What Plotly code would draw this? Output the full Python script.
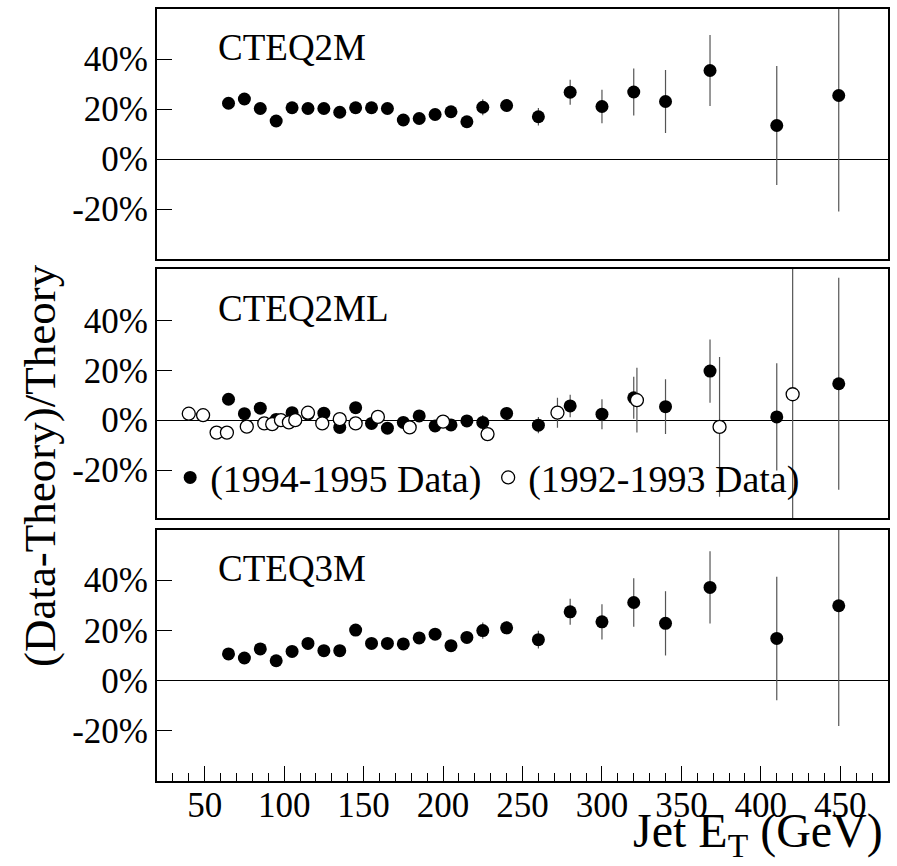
import plotly.graph_objects as go

# ---------------- data ----------------
et_9495 = [65, 75, 85, 95, 105, 115, 125, 135, 145, 155, 165, 175, 185, 195, 205,
           215, 225, 240, 260, 280, 300, 320, 340, 368, 410, 449]
cteq2m = [22.3, 24.0, 20.2, 15.2, 20.5, 20.2, 20.2, 18.7, 20.5, 20.5, 20.2, 15.6, 16.2,
          17.8, 18.9, 14.9, 20.7, 21.4, 16.9, 26.7, 21.0, 26.8, 23.0, 35.4, 13.4, 25.4]
err_2m = [1, 1, 1, 1, 1, 1, 1, 1, 1, 1, 1, 1, 1, 1, 1,
          2, 3.2, 2.5, 3.5, 5.0, 6.7, 9.4, 12.6, 14.2, 23.8, 46.4]
cteq2ml = [8.4, 2.6, 4.8, 0.3, 3.0, 2.4, 2.8, -2.9, 5.0, -1.3, -3.2, -0.9, 1.7,
           -2.3, -1.9, -0.3, -0.9, 2.7, -2.0, 5.7, 2.4, 9.0, 5.4, 19.7, 1.3, 14.6]
err_2ml = [1, 1, 1, 1, 1, 1, 1, 1, 1, 1, 1, 1, 1, 1, 1,
           2, 3.0, 2.5, 3.3, 4.5, 6.0, 8.4, 11.0, 12.7, 21.5, 42.5]
cteq3m = [10.6, 9.0, 12.6, 7.9, 11.6, 14.8, 11.9, 11.9, 20.1, 14.8, 14.8, 14.6, 17.0,
          18.5, 13.9, 17.2, 19.9, 21.0, 16.3, 27.4, 23.4, 31.1, 22.8, 37.1, 16.8, 29.8]
err_3m = [1, 1, 1, 1, 1, 1, 1, 1, 1, 1, 1, 1, 1, 1, 1,
          2, 3.2, 2.5, 3.5, 5.2, 7.0, 9.7, 12.8, 14.4, 24.6, 47.9]

et_9293 = [40, 49, 57.5, 64, 76.5, 87.5, 92.5, 98, 103, 107, 115, 124, 135, 145,
           159, 179, 200, 228, 272, 322, 374, 420]
cteq2ml_9293 = [2.6, 2.0, -5.0, -5.0, -2.6, -1.3, -1.6, 0.0, -0.9, 0.0, 3.0, -1.3,
                0.4, -1.3, 1.3, -2.9, -0.6, -5.6, 3.0, 8.0, -2.7, 10.4]
err_9293 = [1, 1, 1, 1, 1, 1, 1, 1, 1, 1, 1, 1, 1, 1, 1, 1.5, 2, 2.5, 6, 13, 28, 60]

panel_labels = ["CTEQ2M", "CTEQ2ML", "CTEQ3M"]
legend_names = ["(1994-1995 Data)", "(1992-1993 Data)"]
ytick_vals = [-20, 0, 20, 40]
ytick_text = ["-20%", "0%", "20%", "40%"]
xtick_vals = [50, 100, 150, 200, 250, 300, 350, 400, 450]

FONT = "Liberation Serif"
ERRCOL = "rgb(85,85,85)"

fig = go.Figure()

def solid(x, y, e, xa, ya, name=None, show=False):
    return go.Scatter(
        x=x, y=y, mode="markers", xaxis=xa, yaxis=ya, name=name, showlegend=show,
        marker=dict(symbol="circle", size=13, color="black", line=dict(width=0)),
        error_y=dict(type="data", array=e, visible=True, color=ERRCOL,
                     thickness=1.2, width=0),
    )

fig.add_trace(solid(et_9495, cteq2m, err_2m, "x", "y"))
fig.add_trace(solid(et_9495, cteq2ml, err_2ml, "x2", "y2", legend_names[0], True))
fig.add_trace(go.Scatter(
    x=et_9293, y=cteq2ml_9293, mode="markers", xaxis="x2", yaxis="y2",
    name=legend_names[1], showlegend=True,
    marker=dict(symbol="circle", size=13, color="white",
                line=dict(width=1.3, color="black")),
    error_y=dict(type="data", array=err_9293, visible=True, color=ERRCOL,
                 thickness=1.2, width=0),
))
fig.add_trace(solid(et_9495, cteq3m, err_3m, "x3", "y3"))

axis_common = dict(showline=True, linecolor="black", linewidth=2, mirror=True,
                   showgrid=False, zeroline=False)
yaxis_common = dict(axis_common, zeroline=True, zerolinecolor="black",
                    zerolinewidth=1, tickvals=ytick_vals, ticktext=ytick_text,
                    ticks="inside", ticklen=15, tickwidth=1, tickcolor="black",
                    tickfont=dict(family=FONT, size=35, color="black"))

fig.update_layout(
    width=897, height=866,
    margin=dict(l=157, r=9, t=7, b=85),
    paper_bgcolor="white", plot_bgcolor="white",
    xaxis=dict(axis_common, domain=[0, 1], anchor="y", range=[20, 480],
               showticklabels=False, ticks=""),
    xaxis2=dict(axis_common, domain=[0, 1], anchor="y2", range=[20, 480],
                showticklabels=False, ticks="", matches="x"),
    xaxis3=dict(axis_common, domain=[0, 1], anchor="y3", range=[20, 480],
                matches="x", tickvals=xtick_vals, ticks="inside", ticklen=15,
                tickwidth=1, tickcolor="black", ticklabelstandoff=-8,
                tickfont=dict(family=FONT, size=35, color="black"),
                minor=dict(ticks="inside", ticklen=8, dtick=10, tick0=0,
                           tickwidth=1, tickcolor="black")),
    yaxis=dict(yaxis_common, domain=[0.6761, 1.0], anchor="x", range=[-40, 60]),
    yaxis2=dict(yaxis_common, domain=[0.3402, 0.6637], anchor="x2", range=[-39.4, 60.8]),
    yaxis3=dict(yaxis_common, domain=[0.0, 0.3252], anchor="x3", range=[-40, 60]),
    showlegend=True,
    legend=dict(orientation="h", x=0.018, y=0.3928, xanchor="left", yanchor="middle",
                font=dict(family=FONT, size=38, color="black"),
                bgcolor="rgba(0,0,0,0)", entrywidth=273, entrywidthmode="pixels",
                traceorder="normal"),
)

for lab, xr, yr in zip(panel_labels, ["x", "x2", "x3"], ["y", "y2", "y3"]):
    fig.add_annotation(text=lab, x=57, y=40, xref=xr, yref=yr, xanchor="left",
                       yanchor="bottom", yshift=-11, showarrow=False,
                       font=dict(family=FONT, size=37, color="black"))

fig.add_annotation(text="(Data-Theory)/Theory", textangle=-90, xref="paper",
                   yref="paper", x=-0.16, y=0.408, xanchor="center", yanchor="middle",
                   showarrow=False, font=dict(family=FONT, size=45, color="black"))
fig.add_annotation(text="Jet E<sub>T</sub> (GeV)", xref="paper", yref="paper",
                   x=0.9959, y=-0.027, xanchor="right", yanchor="top",
                   showarrow=False, font=dict(family=FONT, size=48, color="black"))

fig.write_html("out.html")
